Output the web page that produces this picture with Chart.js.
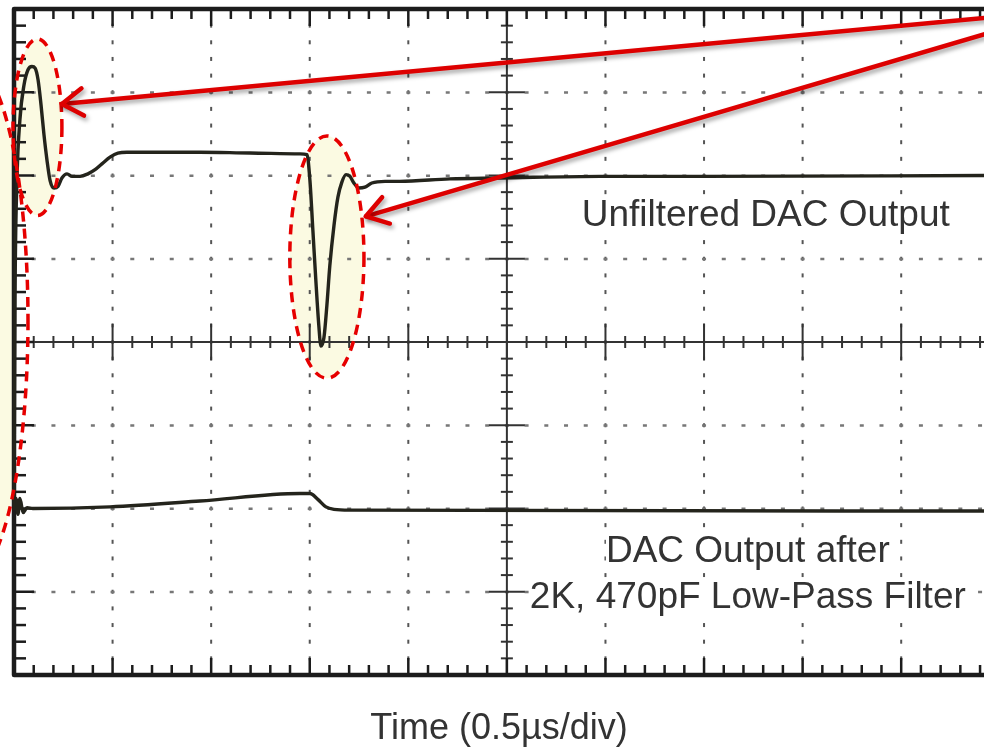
<!DOCTYPE html>
<html>
<head>
<meta charset="utf-8">
<title>DAC output glitch</title>
<script src="https://cdn.jsdelivr.net/npm/chart.js@4.4.1/dist/chart.umd.min.js"></script>
<style>
  html, body { margin: 0; padding: 0; background: #fff; overflow: hidden; }
  #wrap { width: 984px; height: 751px; }
</style>
</head>
<body>
<div id="wrap"><canvas id="scope" width="984" height="751"></canvas></div>
<script>
const US_PER_DIV = 0.5;
const VISIBLE_DIVS = 9.84;   // the screen is 10 divisions wide, right edge is cut off

// unfiltered DAC output (time in µs, level in divisions)
const rawTime = [0, 0.005, 0.015, 0.030, 0.051, 0.071, 0.091, 0.107, 0.122, 0.137,
  0.152, 0.167, 0.183, 0.203, 0.223, 0.243, 0.269, 0.294, 0.335, 0.375,
  0.411, 0.446, 0.487, 0.527, 0.573, 0.943, 1.197, 1.450, 1.486, 1.501,
  1.516, 1.531, 1.546, 1.557, 1.572, 1.587, 1.602, 1.623, 1.643, 1.663,
  1.684, 1.704, 1.724, 1.749, 1.780, 1.815, 1.882, 1.957, 2.211, 2.465,
  2.972, 3.479, 4.92];
const rawLevel = [-2.02, 0.50, 1.94, 2.67, 3.09, 3.27, 3.31, 3.29, 3.15, 2.85,
  2.49, 2.19, 1.94, 1.85, 1.87, 1.97, 2.02, 1.99, 1.99, 2.02,
  2.07, 2.14, 2.22, 2.27, 2.28, 2.28, 2.27, 2.26, 2.25, 1.94,
  1.34, 0.74, 0.20, -0.05, 0.05, 0.44, 0.92, 1.40, 1.74, 1.92,
  2.01, 1.99, 1.91, 1.85, 1.86, 1.91, 1.93, 1.93, 1.96, 1.97,
  1.99, 1.99, 2.00];

// output after the RC low-pass filter
const filteredTime = [0, 0.010, 0.020, 0.030, 0.046, 0.066, 0.096, 0.487, 0.943, 1.450,
  1.501, 1.541, 1.582, 1.623, 1.704, 4.92];
const filteredLevel = [-2.02, -1.88, -2.07, -1.88, -2.05, -1.99, -2.00, -1.98, -1.91, -1.82,
  -1.82, -1.89, -1.98, -2.01, -2.02, -2.03];

// glitch highlights: centre (µs, div), radii (µs, div)
const highlights = [
  { t: -0.223, v: 0.26, rt: 0.294, rv: 3.10, outsideOnly: true },
  { t: 0.119, v: 2.58, rt: 0.124, rv: 1.06 },
  { t: 1.587, v: 1.02, rt: 0.188, rv: 1.455 }
];
// callout arrows: tail -> tip (µs, div)
const callouts = [
  { from: [5.0, 3.91], to: [0.243, 2.86] },
  { from: [5.0, 3.75], to: [1.785, 1.51] }
];
const notes = [
  { text: 'Unfiltered DAC Output', t: 3.813, v: 1.52 },
  { text: 'DAC Output after', t: 3.722, v: -2.515 },
  { text: '2K, 470pF Low-Pass Filter', t: 3.722, v: -3.068 }
];

const toPoints = (ts, vs) => ts.map((t, i) => ({ x: t, y: vs[i] }));

function seg(ctx, x0, y0, x1, y1) {
  ctx.beginPath();
  ctx.moveTo(x0, y0);
  ctx.lineTo(x1, y1);
  ctx.stroke();
}

function ellipsePath(ctx, h, x, y) {
  const cx = x.getPixelForValue(h.t), cy = y.getPixelForValue(h.v);
  const rx = Math.abs(x.getPixelForValue(h.t + h.rt) - cx);
  const ry = Math.abs(y.getPixelForValue(h.v + h.rv) - cy);
  ctx.beginPath();
  ctx.ellipse(cx, cy, rx, ry, 0, 0, Math.PI * 2);
}

const scopeScreen = {
  id: 'scopeScreen',
  beforeDatasetsDraw(chart) {
    const { ctx, chartArea: a, scales: { x, y } } = chart;
    const gx = d => x.getPixelForValue(d * US_PER_DIV);
    const gy = d => y.getPixelForValue(d);
    ctx.save();

    // pale fill of the highlight ellipses
    ctx.fillStyle = 'rgb(251,250,226)';
    highlights.forEach(h => {
      ctx.save();
      if (h.outsideOnly) {
        ctx.beginPath();
        ctx.rect(0, 0, a.left, chart.height);
        ctx.clip();
      }
      ellipsePath(ctx, h, x, y);
      ctx.fill();
      ctx.restore();
    });

    // dotted division lines
    ctx.fillStyle = '#555';
    for (let i = 1; i < 10; i++) {
      if (i === 5) continue;
      for (let j = -19; j <= 19; j++) ctx.fillRect(gx(i) - 1, gy(j * 0.2) - 2, 2, 4);
    }
    ctx.fillStyle = '#777';
    for (let j = -3; j <= 3; j++) {
      if (j === 0) continue;
      for (let i = 1; i <= 49; i++) ctx.fillRect(gx(i * 0.2) - 2, gy(j) - 1, 4, 2.5);
    }

    // trace captions, on a white patch so the dots don't run through them
    ctx.font = '37px "Liberation Sans", Arial, sans-serif';
    ctx.textAlign = 'center';
    ctx.textBaseline = 'middle';
    notes.forEach(n => {
      const cx = x.getPixelForValue(n.t), cy = y.getPixelForValue(n.v);
      const w = ctx.measureText(n.text).width;
      ctx.fillStyle = '#fff';
      ctx.fillRect(cx - w / 2, cy - 20, w, 40);
      ctx.fillStyle = '#333';
      ctx.fillText(n.text, cx, cy);
    });

    // centre cross with minor ticks
    ctx.strokeStyle = '#333';
    ctx.lineWidth = 2;
    const cy0 = gy(0), cx0 = gx(5);
    seg(ctx, a.left, cy0, a.right, cy0);
    seg(ctx, cx0, a.top, cx0, a.bottom);
    for (let i = 1; i <= 49; i++) {
      const half = i % 5 === 0 ? 18 : 6;
      seg(ctx, gx(i * 0.2), cy0 - half, gx(i * 0.2), cy0 + half);
    }
    for (let j = -19; j <= 19; j++) {
      const half = j % 5 === 0 ? 18 : 6;
      seg(ctx, cx0 - half, gy(j * 0.2), cx0 + half, gy(j * 0.2));
    }

    // frame ticks
    ctx.strokeStyle = '#1c1c1c';
    ctx.lineWidth = 2.5;
    for (let i = 1; i <= 49; i++) {
      const px = gx(i * 0.2), len = i % 5 === 0 ? 17 : 10;
      seg(ctx, px, a.top, px, a.top + len);
      seg(ctx, px, a.bottom, px, a.bottom - len);
    }
    for (let j = -19; j <= 19; j++) {
      const py = gy(j * 0.2), len = j % 5 === 0 ? 20 : 12;
      seg(ctx, a.left, py, a.left + len, py);
    }

    // frame (open on the right)
    ctx.lineWidth = 4.5;
    ctx.lineJoin = 'round';
    ctx.beginPath();
    ctx.moveTo(a.right + 5, a.top);
    ctx.lineTo(a.left, a.top);
    ctx.lineTo(a.left, a.bottom);
    ctx.lineTo(a.right + 5, a.bottom);
    ctx.stroke();
    ctx.restore();
  },
  afterDatasetsDraw(chart) {
    const { ctx, scales: { x, y } } = chart;
    ctx.save();

    ctx.strokeStyle = '#e60000';
    ctx.lineWidth = 3.5;
    ctx.setLineDash([10, 7]);
    highlights.forEach(h => {
      ellipsePath(ctx, h, x, y);
      ctx.stroke();
    });
    ctx.setLineDash([]);

    ctx.strokeStyle = '#dd0000';
    ctx.lineWidth = 4.5;
    ctx.lineCap = 'round';
    ctx.lineJoin = 'round';
    ctx.shadowColor = 'rgba(0,0,0,0.35)';
    ctx.shadowBlur = 4;
    ctx.shadowOffsetX = 2;
    ctx.shadowOffsetY = 3;
    callouts.forEach(c => {
      const x0 = x.getPixelForValue(c.from[0]), y0 = y.getPixelForValue(c.from[1]);
      const x1 = x.getPixelForValue(c.to[0]), y1 = y.getPixelForValue(c.to[1]);
      const ang = Math.atan2(y0 - y1, x0 - x1);
      seg(ctx, x0, y0, x1, y1);
      ctx.beginPath();
      ctx.moveTo(x1 + 25 * Math.cos(ang - 0.58), y1 + 25 * Math.sin(ang - 0.58));
      ctx.lineTo(x1, y1);
      ctx.lineTo(x1 + 25 * Math.cos(ang + 0.58), y1 + 25 * Math.sin(ang + 0.58));
      ctx.stroke();
    });
    ctx.restore();
  }
};

const traceStyle = {
  borderColor: '#24241c',
  borderWidth: 3.4,
  pointRadius: 0,
  cubicInterpolationMode: 'monotone',
  clip: false
};

new Chart(document.getElementById('scope'), {
  type: 'line',
  data: {
    datasets: [
      Object.assign({ label: 'Unfiltered DAC Output', data: toPoints(rawTime, rawLevel) }, traceStyle),
      Object.assign({ label: 'DAC Output after 2K, 470pF Low-Pass Filter', data: toPoints(filteredTime, filteredLevel) }, traceStyle)
    ]
  },
  options: {
    responsive: false,
    animation: false,
    events: [],
    layout: { padding: { left: 14, top: 9, right: 0, bottom: 0 } },
    plugins: { legend: { display: false }, tooltip: { enabled: false } },
    scales: {
      x: {
        type: 'linear',
        min: 0,
        max: VISIBLE_DIVS * US_PER_DIV,
        grid: { display: false },
        border: { display: false },
        ticks: { display: false },
        title: {
          display: true,
          text: 'Time (0.5µs/div)',
          color: '#333',
          font: { family: '"Liberation Sans", Arial, sans-serif', size: 36 },
          padding: { top: 0, bottom: 0 }
        },
        afterFit(scale) { scale.height = 76; }
      },
      y: { min: -4, max: 4, display: false }
    }
  },
  plugins: [scopeScreen]
});
</script>
</body>
</html>
